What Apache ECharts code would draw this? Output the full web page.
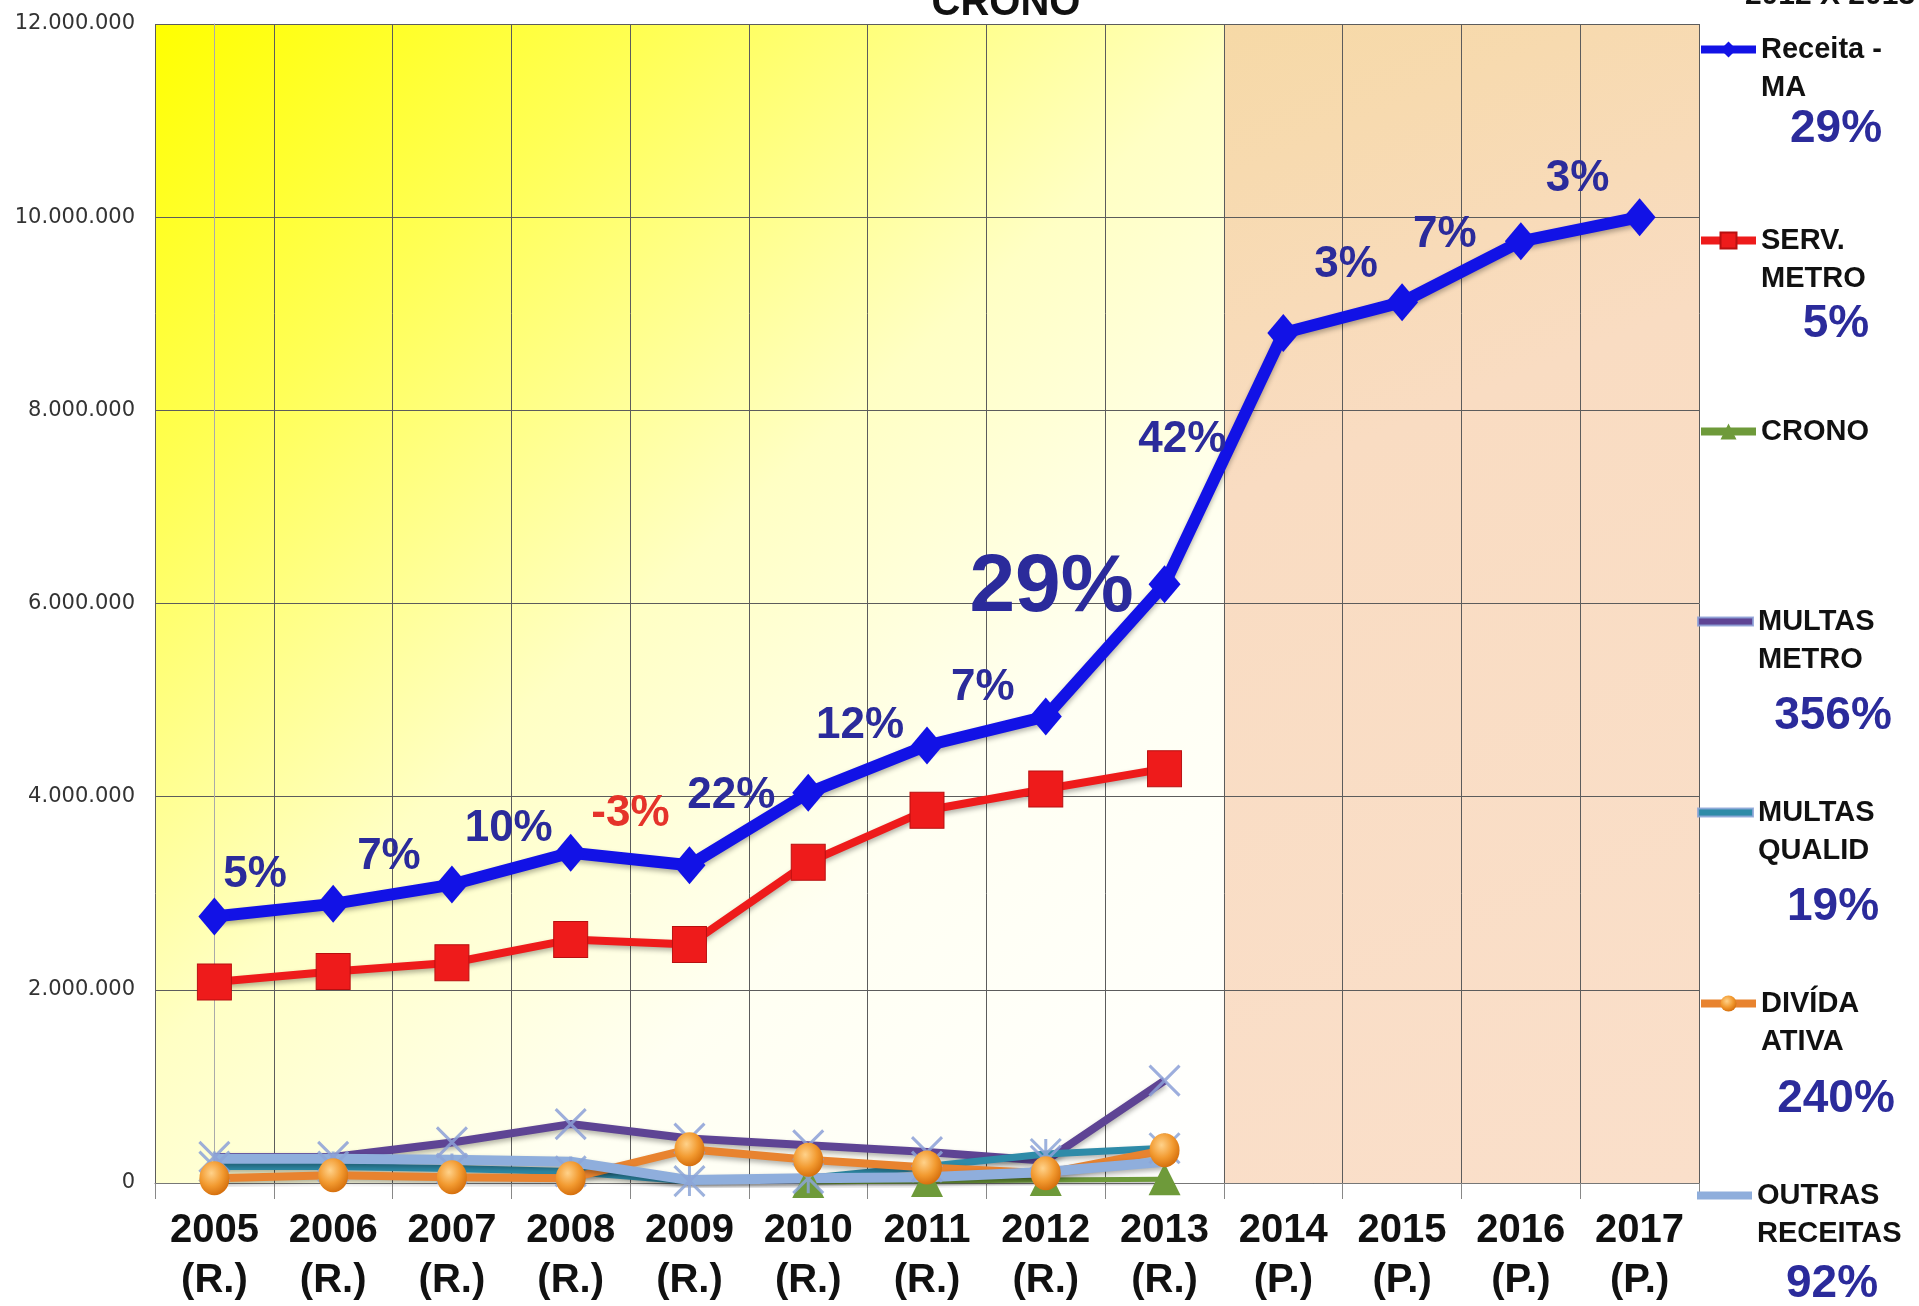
<!DOCTYPE html>
<html>
<head>
<meta charset="utf-8">
<title>Receita MA</title>
<script src="https://cdn.jsdelivr.net/npm/echarts@6/dist/echarts.min.js"></script>
<style>
  html, body { margin: 0; padding: 0; background: #fff; }
  #chart { width: 1919px; height: 1306px; }
</style>
</head>
<body>
<div id="chart"></div>
<script>
// eixo x: ano + (R.) realizado / (P.) pactuado
var anos = ['2005', '2006', '2007', '2008', '2009', '2010', '2011', '2012', '2013', '2014', '2015', '2016', '2017'];
var tipos = ['(R.)', '(R.)', '(R.)', '(R.)', '(R.)', '(R.)', '(R.)', '(R.)', '(R.)', '(P.)', '(P.)', '(P.)', '(P.)'];

// valores (R$)
var receitaMA = [2760000, 2890000, 3090000, 3420000, 3290000, 4040000, 4530000, 4830000, 6200000, 8800000, 9120000, 9750000, 10000000];
var servMetro = [2080000, 2190000, 2280000, 2520000, 2470000, 3320000, 3860000, 4080000, 4290000, null, null, null, null];
var crono = [null, null, null, null, null, 10000, 20000, 30000, 40000, null, null, null, null];
var multasMetro = [270000, 270000, 420000, 610000, 460000, 390000, 320000, 230000, 1060000, null, null, null, null];
var multasQualid = [170000, 170000, 150000, 120000, 20000, 50000, 170000, 300000, 360000, null, null, null, null];
var dividaAtiva = [50000, 80000, 60000, 50000, 350000, 240000, 160000, 100000, 340000, null, null, null, null];
var outrasReceitas = [250000, 250000, 240000, 220000, 30000, 50000, 60000, 115000, 220000, null, null, null, null];

// crescimento anual da receita (rotulos sobre a linha azul)
var crescimento = ['', '5%', '7%', '10%', '-3%', '22%', '12%', '7%', '29%', '42%', '3%', '7%', '3%'];
// variacao 2012 x 2013 na legenda
var nomes = ['Receita - MA', 'SERV. METRO', 'CRONO', 'MULTAS METRO', 'MULTAS QUALID', 'DIVÍDA ATIVA', 'OUTRAS RECEITAS'];
var nomesLinhas = [['Receita -', 'MA'], ['SERV.', 'METRO'], ['CRONO'], ['MULTAS', 'METRO'], ['MULTAS', 'QUALID'], ['DIVÍDA', 'ATIVA'], ['OUTRAS', 'RECEITAS']];
var variacao = ['29%', '5%', '', '356%', '19%', '240%', '92%'];

var categorias = anos.map(function (a, i) { return a + '\n' + tipos[i]; });

// layout dos rotulos e da legenda
var rotuloOffset = [null, [-78, -29], [-63, -28], [-62, -24], [-59, -51], [-77, 3], [-67, -20], [-63, -29], [-113, 4], [-101, 107], [-56, -37], [-76, -6], [-62, -38]];
var legendaY = [54, 245, 436, 626, 817, 1008, 1200];
var legendaPctLH = [46, 54, 0, 76, 76, 78, 64];
var legendaIcone = [null, null, null, 'rect', 'rect', null, 'rect'];

var fonte = '"Liberation Sans", Arial, sans-serif';
var azulTexto = '#2B2B9B';

var chart = echarts.init(document.getElementById('chart'), null, { renderer: 'canvas' });

var receitaData = receitaMA.map(function (v, i) {
  if (!crescimento[i]) return v;
  return {
    value: v,
    label: {
      show: true,
      position: 'inside',
      formatter: crescimento[i],
      offset: rotuloOffset[i],
      fontFamily: fonte,
      fontWeight: 'bold',
      fontSize: i === 8 ? 82 : 44,
      color: crescimento[i].charAt(0) === '-' ? '#E5332A' : azulTexto
    }
  };
});

var sombra = { shadowBlur: 5, shadowColor: 'rgba(0,0,0,0.3)', shadowOffsetY: 3 };
function estiloLinha(cor, largura) {
  return Object.assign({ color: cor, width: largura }, sombra);
}

var xMarker = 'path://M0,0L10,10M10,0L0,10';
var starMarker = 'path://M5,0L5,10M0,0L10,10M10,0L0,10';

// uma legenda por serie: icone alinhado com a primeira linha do nome
var legendas = nomes.map(function (nome, i) {
  var linhas = nomesLinhas[i];
  var txt = linhas.map(function (l) { return '{n|' + l + '}'; }).join('\n');
  var H = linhas.length * 38;
  if (variacao[i]) {
    txt += '\n{p|' + variacao[i] + '}';
    H += legendaPctLH[i];
  }
  var item = { name: nome };
  if (legendaIcone[i]) item.icon = legendaIcone[i];
  return {
    data: [item],
    orient: 'vertical',
    left: 1697,
    top: legendaY[i] - 19,
    padding: 0,
    itemWidth: 55,
    itemHeight: legendaIcone[i] ? 8 : 20,
    selectedMode: false,
    lineStyle: { width: 8 },
    formatter: function () { return txt; },
    textStyle: {
      padding: [H - 38, 0, 0, 0],
      rich: {
        n: { fontFamily: fonte, fontWeight: 'bold', fontSize: 29, color: '#111', lineHeight: 38, width: 150 },
        p: { fontFamily: fonte, fontWeight: 'bold', fontSize: 46, color: azulTexto, lineHeight: legendaPctLH[i], width: 150, align: 'center' }
      }
    }
  };
});

var amarelo = new echarts.graphic.LinearGradient(0, 0, 1, 1, [
  { offset: 0, color: '#FFFF00' },
  { offset: 0.22, color: '#FFFF55' },
  { offset: 0.48, color: '#FFFFC4' },
  { offset: 0.7, color: '#FFFFF2' },
  { offset: 1, color: '#FFFFFF' }
]);
var pessego = new echarts.graphic.LinearGradient(0, 0, 1, 1, [
  { offset: 0, color: '#F6D9A6' },
  { offset: 0.35, color: '#F9DCC2' },
  { offset: 1, color: '#FADFCA' }
]);

var option = {
  animation: false,
  backgroundColor: '#fff',
  grid: { left: 155, right: 220, top: 24, bottom: 119, containLabel: false },
  legend: legendas,
  xAxis: [{
    type: 'category',
    data: categorias,
    boundaryGap: true,
    z: 1.5,
    axisLine: { show: true, lineStyle: { color: '#777', width: 1 } },
    axisTick: { show: true, length: 16, lineStyle: { color: '#888' } },
    splitLine: { show: true, lineStyle: { color: '#5c5c5c', width: 1 } },
    axisLabel: { interval: 0, margin: 23, fontFamily: fonte, fontWeight: 'bold', fontSize: 40, lineHeight: 50, color: '#111' }
  }, {
    type: 'value', min: -0.5, max: 12.5, show: false
  }],
  yAxis: {
    type: 'value',
    min: 0,
    max: 12000000,
    interval: 2000000,
    z: 1.5,
    axisLine: { show: true, lineStyle: { color: '#aaa' } },
    axisTick: { show: false },
    splitLine: { show: true, lineStyle: { color: '#5c5c5c', width: 1 } },
    axisLabel: {
      margin: 20, fontFamily: '"DejaVu Sans", sans-serif', fontSize: 21, color: '#333',
      formatter: function (v) { return String(v).replace(/\B(?=(\d{3})+(?!\d))/g, '.'); }
    }
  },
  graphic: [
    { type: 'text', x: 370, y: 118, style: { text: 'MA', font: 'bold 80px ' + fonte, fill: '#000', align: 'center', verticalAlign: 'middle' } },
    { type: 'text', x: 1467, y: 724, style: { text: 'RECEITA\nPACTUADA NO\nPLANO DE\nAPLICAÇÃO', font: 'bold 46px ' + fonte, lineHeight: 57, fill: '#111', align: 'center', verticalAlign: 'middle' } },
    { type: 'text', x: 1006, y: 4, style: { text: 'CRONO', font: 'bold 40px ' + fonte, fill: '#111', align: 'center', verticalAlign: 'middle' } },
    { type: 'text', x: 1830, y: -4, style: { text: '2012 X 2013', font: 'bold 30px ' + fonte, fill: '#111', align: 'center', verticalAlign: 'middle' } }
  ],
  series: [
    {
      name: 'fundo', type: 'line', xAxisIndex: 1, data: [], silent: true, symbol: 'none',
      markArea: {
        silent: true,
        data: [
          [{ xAxis: -0.5, itemStyle: { color: amarelo } }, { xAxis: 8.5 }],
          [{ xAxis: 8.5, itemStyle: { color: pessego } }, { xAxis: 12.5 }]
        ]
      }
    },
    {
      name: 'Receita - MA', type: 'line', data: receitaData,
      symbol: 'diamond', symbolSize: [32, 38],
      lineStyle: estiloLinha('#1212E6', 12),
      itemStyle: { color: '#1212E6' }
    },
    {
      name: 'SERV. METRO', type: 'line', data: servMetro,
      symbol: 'rect', symbolSize: [34, 36],
      lineStyle: estiloLinha('#EE1B1B', 8),
      itemStyle: { color: '#EE1B1B', borderColor: '#B81010', borderWidth: 1 }
    },
    {
      name: 'CRONO', type: 'line', data: crono,
      symbol: 'triangle', symbolSize: [32, 32],
      lineStyle: estiloLinha('#6E9A3A', 5),
      itemStyle: { color: '#6E9A3A' }
    },
    {
      name: 'MULTAS METRO', type: 'line', data: multasMetro,
      symbol: xMarker, symbolSize: 30,
      lineStyle: estiloLinha('#5E4494', 8),
      itemStyle: { color: '#5E4494', borderColor: 'rgba(140,160,215,0.85)', borderWidth: 3 }
    },
    {
      name: 'MULTAS QUALID', type: 'line', data: multasQualid,
      symbol: starMarker, symbolSize: 30,
      lineStyle: estiloLinha('#2E8BA8', 7),
      itemStyle: { color: '#2E8BA8', borderColor: 'rgba(140,165,215,0.85)', borderWidth: 3 }
    },
    {
      name: 'DIVÍDA ATIVA', type: 'line', data: dividaAtiva,
      symbol: 'circle', symbolSize: [30, 34],
      lineStyle: estiloLinha('#E8832F', 8),
      itemStyle: {
        color: new echarts.graphic.RadialGradient(0.4, 0.35, 0.7, [
          { offset: 0, color: '#FFD28A' },
          { offset: 0.55, color: '#F29A30' },
          { offset: 1, color: '#D26A08' }
        ])
      }
    },
    {
      name: 'OUTRAS RECEITAS', type: 'line', data: outrasReceitas,
      symbol: 'none',
      lineStyle: estiloLinha('#8FAEDC', 10),
      itemStyle: { color: '#8FAEDC' }
    }
  ]
};

chart.setOption(option);
</script>
</body>
</html>
